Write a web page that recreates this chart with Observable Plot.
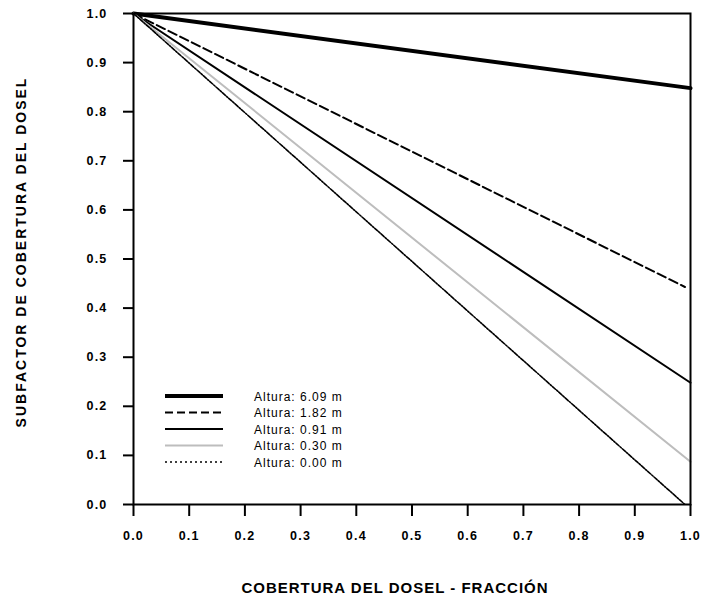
<!DOCTYPE html>
<html><head><meta charset="utf-8">
<script src="https://cdn.jsdelivr.net/npm/d3@7"></script>
<script src="https://cdn.jsdelivr.net/npm/@observablehq/plot@0.6"></script>
<style>body{margin:0;background:#fff}#c{position:relative;width:701px;height:599px}</style>
</head><body><div id="c"></div>
<script>
const heights = ["Altura: 6.09 m","Altura: 1.82 m","Altura: 0.91 m","Altura: 0.30 m","Altura: 0.00 m"];
const coverX = [0, 1];
const startY = [1, 1, 1, 1, 1];
const endY = [0.848, 0.443, 0.248, 0.087, 0.0];
const endX = [1, 0.99, 1, 1, 0.99];
const ticks = [0,0.1,0.2,0.3,0.4,0.5,0.6,0.7,0.8,0.9,1.0];
const styles = [
  {stroke:"#000", w:4, dash:null},
  {stroke:"#000", w:2, dash:"9,4"},
  {stroke:"#000", w:2, dash:null},
  {stroke:"#bdbdbd", w:2, dash:null},
  {stroke:"#000", w:1.6, dash:"4,1.5,1.5,1.5"}
];
const data = [];
heights.forEach((h,i)=>{
  data.push({s:i, x:coverX[0], y:startY[i]});
  data.push({s:i, x:endX[i], y:endY[i]});
});
const font = "Liberation Sans, Arial, sans-serif";
const chart = Plot.plot({
  width:701, height:599,
  marginLeft:133, marginRight:11, marginTop:13, marginBottom:95,
  style:{fontFamily:font, fontSize:"12px", fontWeight:"bold", color:"#000", background:"#fff"},
  x:{domain:[0,1], label:null},
  y:{domain:[0,1], label:null},
  marks:[
    ...styles.map((st,i)=>Plot.line(data.filter(d=>d.s===i),{x:"x",y:"y",stroke:st.stroke,strokeWidth:st.w,strokeDasharray:st.dash})),
    Plot.frame({stroke:"#000", strokeWidth:2}),
    Plot.axisX({ticks:ticks, tickFormat:d3.format(".1f"), tickSize:12, tickPadding:15, strokeWidth:2, label:null, fontSize:12.5, fontWeight:"bold"}),
    Plot.axisY({ticks:ticks, tickFormat:d3.format(".1f"), tickSize:10, tickPadding:16, strokeWidth:2, label:null, fontSize:12.5, fontWeight:"bold"})
  ]
});
const svg = d3.select(chart);
svg.selectAll("g[aria-label='x-axis tick label'] text, g[aria-label='y-axis tick label'] text")
  .style("letter-spacing","1.2px");
// axis titles
svg.append("text").attr("x",395).attr("y",593).attr("text-anchor","middle")
  .attr("font-family",font).attr("font-weight","bold").attr("font-size",15)
  .style("letter-spacing","1px")
  .text("COBERTURA DEL DOSEL - FRACCIÓN");
svg.append("text").attr("transform","translate(26,252) rotate(-90)").attr("text-anchor","middle")
  .attr("font-family",font).attr("font-weight","bold").attr("font-size",14)
  .style("letter-spacing","2px")
  .text("SUBFACTOR DE COBERTURA DEL DOSEL");
// legend
const lg = svg.append("g").attr("transform","translate(165,396)");
heights.forEach((h,i)=>{
  const st = styles[i];
  const g = lg.append("g").attr("transform",`translate(0,${i*16.5})`);
  g.append("line").attr("x1",0).attr("x2",58).attr("y1",0).attr("y2",0)
   .attr("stroke",st.stroke).attr("stroke-width",st.w)
   .attr("stroke-dasharray", i===1?"8,4":(i===4?"2,3":null));
  g.append("text").attr("x",89).attr("y",4.5).attr("text-anchor","start")
   .attr("font-family",font).attr("font-size",12).style("letter-spacing","1px")
   .attr("font-weight","normal").text(h);
});
document.getElementById("c").appendChild(chart);
</script></body></html>
